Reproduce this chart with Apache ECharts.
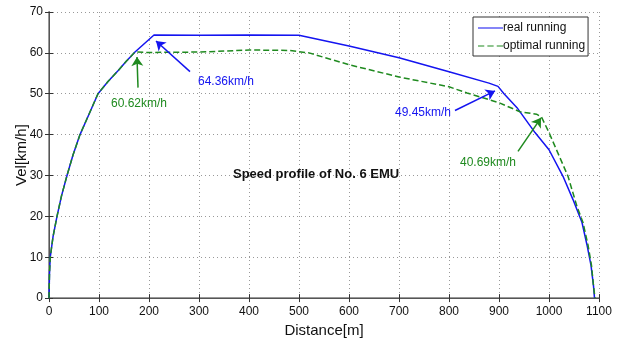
<!DOCTYPE html>
<html>
<head>
<meta charset="utf-8">
<script src="https://cdn.jsdelivr.net/npm/echarts@6/dist/echarts.min.js"></script>
<style>
  html, body { margin: 0; padding: 0; background: #fff; }
  #chart { width: 619px; height: 343px; }
</style>
</head>
<body>
<div id="chart"></div>
<script>
// speed profile (distance in m, speed in km/h)
const realDist = [0, 1, 2.5, 8, 16, 25, 36, 48, 62, 80, 98, 118, 138, 155, 172, 210, 300, 400, 500, 600, 700, 800, 880, 898, 910, 936, 972, 1000, 1028, 1048, 1066, 1076, 1084, 1089, 1091];
const realVel = [0, 6, 10, 15, 20, 25, 30, 35, 40, 45, 50, 53, 55.6, 58, 60.2, 64.36, 64.3, 64.4, 64.3, 61.7, 58.8, 55.4, 52.6, 51.8, 50, 46.6, 40.5, 36.3, 29.8, 24.1, 18.5, 13, 8, 3, 0];

const optDist = [0, 1, 2.5, 8, 16, 25, 36, 48, 62, 80, 98, 118, 138, 155, 172, 200, 300, 400, 480, 520, 600, 700, 800, 836, 900, 942, 975, 985, 1000, 1038, 1056, 1068, 1078, 1085, 1089, 1092];
const optVel = [0, 6, 10, 15, 20, 25, 30, 35, 40, 45, 50, 53, 55.6, 58, 60.2, 60.1, 60.2, 60.7, 60.6, 60.0, 57.1, 54.1, 51.7, 50.2, 47.8, 45.6, 45.0, 44.3, 40.5, 29.8, 22.4, 18.5, 13, 8, 3, 0];

const seriesNames = ["real running", "optimal running"];
const chartTitle = "Speed profile of No. 6 EMU";

// callouts: text, text anchor, arrow tail, arrow head (data coords)
const realNotes = [
  { text: "64.36km/h", at: [354, 52.9], from: [282, 55.4], to: [214, 62.9] },
  { text: "49.45km/h", at: [748, 45.4], from: [812, 45.9], to: [892, 50.7] }
];
const optNotes = [
  { text: "60.62km/h", at: [180, 47.6], from: [178, 51.5], to: [176, 59] },
  { text: "40.69km/h", at: [878, 33.2], from: [938, 35.9], to: [984, 44.1] }
];

const blue = "#1414f0";
const green = "#1f8a1f";
const textFont = "'Liberation Sans', Arial, sans-serif";

// legend swatches drawn as filled strips: a solid bar and three dashes
const solidIcon = "path://M0,0H24V1H0Z";
const dashIcon = "path://M0,0H6V1H0Z M9,0H15V1H9Z M18,0H24V1H18Z";

function zip(xs, ys) {
  return xs.map((x, i) => [x, ys[i]]);
}

function notes(list, color) {
  return {
    markPoint: {
      symbol: "circle",
      symbolSize: 0,
      silent: true,
      label: { show: true, formatter: "{b}", color: color, fontSize: 12, fontFamily: textFont },
      data: list.map((n) => ({ name: n.text, coord: n.at }))
    },
    markLine: {
      silent: true,
      symbol: ["none", "arrow"],
      symbolSize: [9, 9],
      label: { show: false },
      lineStyle: { color: color, type: "solid", width: 1.5 },
      data: list.map((n) => [{ coord: n.from }, { coord: n.to }])
    }
  };
}

const chart = echarts.init(document.getElementById("chart"));

const boxAxis = {
  axisLine: { show: true, lineStyle: { color: "#555", width: 1 } },
  axisTick: { show: true, inside: true, length: 4, lineStyle: { color: "#333" } },
  axisLabel: { show: false },
  splitLine: { show: false }
};
const gridLine = { show: true, lineStyle: { color: "#999", type: [1, 3], width: 1 } };

chart.setOption({
  animation: false,
  backgroundColor: "#fff",
  grid: { left: 49, right: 20, top: 12, bottom: 44 },
  title: {
    text: chartTitle,
    left: 228,
    top: 163,
    textStyle: { fontSize: 13, fontWeight: "bold", color: "#111", fontFamily: textFont }
  },
  legend: {
    orient: "vertical",
    left: 473,
    top: 17,
    padding: [5, 3, 4, 5],
    itemGap: 6,
    itemWidth: 25,
    itemHeight: 2,
    backgroundColor: "#fff",
    borderColor: "#333",
    borderWidth: 1,
    borderRadius: 0,
    textStyle: { fontSize: 12, color: "#111", fontFamily: textFont, padding: [0, 0, 0, -5] },
    data: [
      { name: seriesNames[0], icon: solidIcon, itemStyle: { color: blue } },
      { name: seriesNames[1], icon: dashIcon, itemStyle: { color: green } }
    ]
  },
  xAxis: [
    {
      type: "value",
      min: 0,
      max: 1100,
      interval: 100,
      name: "Distance[m]",
      nameLocation: "middle",
      nameGap: 19,
      nameTextStyle: { fontSize: 15, color: "#111", fontFamily: textFont },
      axisLine: { show: true, lineStyle: { color: "#999", width: 2 } },
      axisTick: { show: true, inside: true, length: 4, lineStyle: { color: "#333" } },
      axisLabel: { color: "#111", fontSize: 12, margin: 8, fontFamily: textFont, formatter: (v) => String(v) },
      splitLine: gridLine
    },
    Object.assign({ type: "value", position: "top", min: 0, max: 1100, interval: 100 }, boxAxis)
  ],
  yAxis: [
    {
      type: "value",
      min: 0,
      max: 70,
      interval: 10,
      name: "Vel[km/h]",
      nameLocation: "middle",
      nameGap: 20,
      nameMoveOverlap: false,
      nameTextStyle: { fontSize: 15, color: "#111", fontFamily: textFont },
      axisLine: { show: true, lineStyle: { color: "#999", width: 2 } },
      axisTick: { show: true, inside: true, length: 4, lineStyle: { color: "#333" } },
      axisLabel: { color: "#111", fontSize: 12, margin: 6, fontFamily: textFont },
      splitLine: gridLine
    },
    Object.assign({ type: "value", position: "right", min: 0, max: 70, interval: 10 }, boxAxis)
  ],
  series: [
    Object.assign({
      name: seriesNames[0],
      type: "line",
      symbol: "none",
      lineStyle: { color: blue, width: 1.5 },
      itemStyle: { color: blue },
      data: zip(realDist, realVel),
      z: 2
    }, notes(realNotes, blue)),
    Object.assign({
      name: seriesNames[1],
      type: "line",
      symbol: "none",
      lineStyle: { color: green, width: 1.5, type: [6, 3] },
      itemStyle: { color: green },
      data: zip(optDist, optVel),
      z: 3
    }, notes(optNotes, green))
  ]
});
</script>
</body>
</html>
